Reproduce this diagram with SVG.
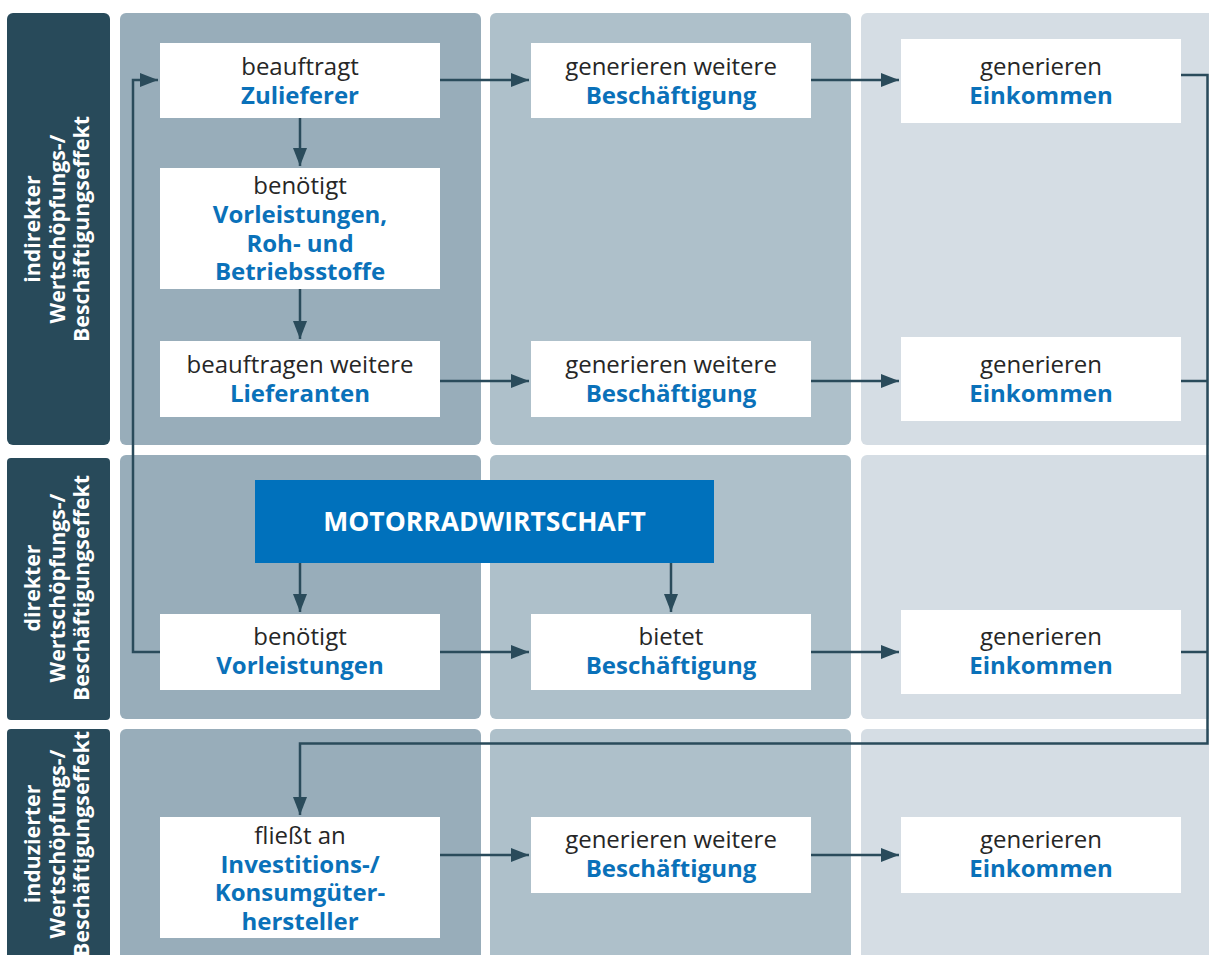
<svg xmlns="http://www.w3.org/2000/svg" width="1209" height="955" viewBox="0 0 1209 955">
<style>
.lab{fill:#284a5a}
.c1{fill:#98adba}
.c2{fill:#aec0ca}
.c3{fill:#d5dde4}
.box{fill:#ffffff}
.t{font-family:"Open Sans","Noto Sans","Liberation Sans",sans-serif;font-size:24px;text-anchor:middle}
.n{fill:#262626}
.b{fill:#0a71b9;font-weight:700}
.lt{font-family:"Open Sans","Noto Sans","Liberation Sans",sans-serif;font-size:21.3px;font-weight:700;fill:#ffffff;text-anchor:middle}
.con{fill:none;stroke:#2a4b5b;stroke-width:2.5}
</style>
<defs>
<marker id="ah" markerUnits="userSpaceOnUse" markerWidth="18" markerHeight="14" refX="18" refY="7" orient="auto">
<path d="M0,0 L18,7 L0,14 z" fill="#2a4b5b"/>
</marker>
</defs>
<rect width="1209" height="955" fill="#ffffff"/>
<g id="panels">
<rect class="c1" x="120" y="13" width="361" height="432" rx="6"/>
<rect class="c2" x="490" y="13" width="361" height="432" rx="6"/>
<rect class="c3" x="861" y="13" width="360" height="432" rx="6"/>
<rect class="c1" x="120" y="455" width="361" height="264" rx="6"/>
<rect class="c2" x="490" y="455" width="361" height="264" rx="6"/>
<rect class="c3" x="861" y="455" width="360" height="264" rx="6"/>
<rect class="c1" x="120" y="729" width="361" height="240" rx="6"/>
<rect class="c2" x="490" y="729" width="361" height="240" rx="6"/>
<rect class="c3" x="861" y="729" width="360" height="240" rx="6"/>
</g>
<g id="label-indirekt">
<rect class="lab" x="7" y="13" width="103" height="432" rx="6"/>
<text class="lt" transform="translate(40,229) rotate(-90)"><tspan x="0" y="0">indirekter</tspan><tspan x="0" y="24.5">Wertschöpfungs-/</tspan><tspan x="0" y="49">Beschäftigungseffekt</tspan></text>
</g>
<g id="label-direkt">
<rect class="lab" x="7" y="458" width="103" height="262" rx="4"/>
<text class="lt" transform="translate(40,588) rotate(-90)"><tspan x="0" y="0">direkter</tspan><tspan x="0" y="24.5">Wertschöpfungs-/</tspan><tspan x="0" y="49">Beschäftigungseffekt</tspan></text>
</g>
<g id="label-induziert">
<rect class="lab" x="7" y="729" width="103" height="240" rx="4"/>
<text class="lt" transform="translate(40,844) rotate(-90)"><tspan x="0" y="0">induzierter</tspan><tspan x="0" y="24.5">Wertschöpfungs-/</tspan><tspan x="0" y="49">Beschäftigungseffekt</tspan></text>
</g>
<g id="connectors">
<path class="con" d="M160,652 H133 V80 H158" marker-end="url(#ah)"/>
<path class="con" d="M300,118 V166" marker-end="url(#ah)"/>
<path class="con" d="M300,289 V339" marker-end="url(#ah)"/>
<path class="con" d="M300,563 V612" marker-end="url(#ah)"/>
<path class="con" d="M671,563 V612" marker-end="url(#ah)"/>
<path class="con" d="M440,80 H529" marker-end="url(#ah)"/>
<path class="con" d="M811,80 H899" marker-end="url(#ah)"/>
<path class="con" d="M440,381 H529" marker-end="url(#ah)"/>
<path class="con" d="M811,381 H899" marker-end="url(#ah)"/>
<path class="con" d="M440,652 H529" marker-end="url(#ah)"/>
<path class="con" d="M811,652 H899" marker-end="url(#ah)"/>
<path class="con" d="M440,855 H529" marker-end="url(#ah)"/>
<path class="con" d="M811,855 H899" marker-end="url(#ah)"/>
<path class="con" d="M1181,75 H1207.5 V743.5 H300 V815" marker-end="url(#ah)"/>
<path class="con" d="M1181,381 H1207.5"/>
<path class="con" d="M1181,652 H1207.5"/>
</g>
<g id="n-zulieferer">
<rect class="box" x="160" y="43" width="280" height="75"/>
<text class="t"><tspan class="n" x="300" y="74.5">beauftragt</tspan><tspan class="b" x="300" y="103.5">Zulieferer</tspan></text>
</g>
<g id="n-vorleistungen-roh">
<rect class="box" x="160" y="168" width="280" height="121"/>
<text class="t"><tspan class="n" x="300" y="194">benötigt</tspan><tspan class="b" x="300" y="223">Vorleistungen,</tspan><tspan class="b" x="300" y="251.5">Roh- und</tspan><tspan class="b" x="300" y="280">Betriebsstoffe</tspan></text>
</g>
<g id="n-lieferanten">
<rect class="box" x="160" y="341" width="280" height="76"/>
<text class="t"><tspan class="n" x="300" y="372.5">beauftragen weitere</tspan><tspan class="b" x="300" y="401.5">Lieferanten</tspan></text>
</g>
<g id="n-motorrad">
<rect x="255" y="480" width="459" height="83" fill="#0071bc"/>
<text x="484.5" y="531" font-family="'Open Sans','Noto Sans','Liberation Sans',sans-serif" font-size="26.5" font-weight="700" fill="#ffffff" text-anchor="middle">MOTORRADWIRTSCHAFT</text>
</g>
<g id="n-vorleistungen">
<rect class="box" x="160" y="614" width="280" height="76"/>
<text class="t"><tspan class="n" x="300" y="644.5">benötigt</tspan><tspan class="b" x="300" y="673.5">Vorleistungen</tspan></text>
</g>
<g id="n-investitions">
<rect class="box" x="160" y="817" width="280" height="121"/>
<text class="t"><tspan class="n" x="300" y="844">fließt an</tspan><tspan class="b" x="300" y="872.5">Investitions-/</tspan><tspan class="b" x="300" y="901">Konsumgüter-</tspan><tspan class="b" x="300" y="929.5">hersteller</tspan></text>
</g>
<g id="n-besch1">
<rect class="box" x="531" y="43" width="280" height="75"/>
<text class="t"><tspan class="n" x="671" y="74.5">generieren weitere</tspan><tspan class="b" x="671" y="103.5">Beschäftigung</tspan></text>
</g>
<g id="n-besch2">
<rect class="box" x="531" y="341" width="280" height="76"/>
<text class="t"><tspan class="n" x="671" y="372.5">generieren weitere</tspan><tspan class="b" x="671" y="401.5">Beschäftigung</tspan></text>
</g>
<g id="n-besch3">
<rect class="box" x="531" y="614" width="280" height="76"/>
<text class="t"><tspan class="n" x="671" y="644.5">bietet</tspan><tspan class="b" x="671" y="673.5">Beschäftigung</tspan></text>
</g>
<g id="n-besch4">
<rect class="box" x="531" y="817" width="280" height="76"/>
<text class="t"><tspan class="n" x="671" y="848">generieren weitere</tspan><tspan class="b" x="671" y="877">Beschäftigung</tspan></text>
</g>
<g id="n-eink1">
<rect class="box" x="901" y="39" width="280" height="84"/>
<text class="t"><tspan class="n" x="1041" y="74.5">generieren</tspan><tspan class="b" x="1041" y="103.5">Einkommen</tspan></text>
</g>
<g id="n-eink2">
<rect class="box" x="901" y="337" width="280" height="84"/>
<text class="t"><tspan class="n" x="1041" y="372.5">generieren</tspan><tspan class="b" x="1041" y="401.5">Einkommen</tspan></text>
</g>
<g id="n-eink3">
<rect class="box" x="901" y="610" width="280" height="84"/>
<text class="t"><tspan class="n" x="1041" y="644.5">generieren</tspan><tspan class="b" x="1041" y="673.5">Einkommen</tspan></text>
</g>
<g id="n-eink4">
<rect class="box" x="901" y="817" width="280" height="76"/>
<text class="t"><tspan class="n" x="1041" y="848">generieren</tspan><tspan class="b" x="1041" y="877">Einkommen</tspan></text>
</g>
</svg>
